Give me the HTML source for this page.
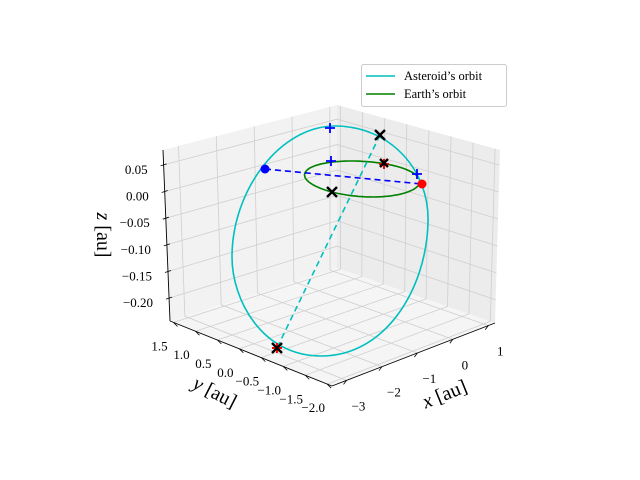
<!DOCTYPE html>
<html><head><meta charset="utf-8"><style>
html,body{margin:0;padding:0;background:#fff;}
svg{display:block;font-family:"Liberation Serif","DejaVu Serif",serif;}
</style></head><body>
<svg id="chart" width="640" height="480" viewBox="0 0 640 480"></svg>
<script>
const xTicks=[-3,-2,-1,0,1];
const yTicks=[1.5,1.0,0.5,0.0,-0.5,-1.0,-1.5,-2.0];
const zTicks=[0.05,0.00,-0.05,-0.10,-0.15,-0.20];
const earthRadius=[1];
const seriesNames=["Asteroid\u2019s orbit","Earth\u2019s orbit"];

const xmin=-3.41,xmax=1.19,ymin=-2.11,ymax=1.58,zmin=-0.243,zmax=0.078;
const A=[170,321],B=[337,268],C=[495,323],D=[332,386];
const At=[163,150],Bt=[337,105],Ct=[500,150],Dt=[332,210];
const NS="http://www.w3.org/2000/svg";
const svg=document.getElementById('chart');
function bil(P0,P1,P2,P3,fx,fy){
  return [0,1].map(i=>P0[i]*(1-fx)*(1-fy)+P1[i]*fx*(1-fy)+P2[i]*(1-fx)*fy+P3[i]*fx*fy);
}
function proj(x,y,z){
  const fx=(x-xmin)/(xmax-xmin),fy=(y-ymin)/(ymax-ymin),fz=(z-zmin)/(zmax-zmin);
  const b=bil(D,C,A,B,fx,fy),t=bil(Dt,Ct,At,Bt,fx,fy);
  return [b[0]+(t[0]-b[0])*fz,b[1]+(t[1]-b[1])*fz];
}
function el(tag,attrs,parent){const e=document.createElementNS(NS,tag);for(const k in attrs)e.setAttribute(k,attrs[k]);(parent||svg).appendChild(e);return e;}
function pts(a){return a.map(p=>p[0].toFixed(1)+','+p[1].toFixed(1)).join(' ');}

let p;
p=el('polygon',{points:pts([proj(xmin,ymax,zmin),proj(xmax,ymax,zmin),proj(xmax,ymax,zmax),proj(xmin,ymax,zmax)]),fill:'#f2f2f2'});


p=el('polygon',{points:pts([proj(xmax,ymax,zmin),proj(xmax,ymin,zmin),proj(xmax,ymin,zmax),proj(xmax,ymax,zmax)]),fill:'#ececec'});


p=el('polygon',{points:pts([proj(xmin,ymin,zmin),proj(xmax,ymin,zmin),proj(xmax,ymax,zmin),proj(xmin,ymax,zmin)]),fill:'#f5f5f5'});



const gs={stroke:'#cfcfcf','stroke-width':0.8,fill:'none'};
xTicks.forEach(x=>{
  const g=el('polyline',Object.assign({points:pts([proj(x,ymin,zmin),proj(x,ymax,zmin),proj(x,ymax,zmax)])},gs));
  
  
});
yTicks.forEach(y=>{
  const g=el('polyline',Object.assign({points:pts([proj(xmin,y,zmin),proj(xmax,y,zmin),proj(xmax,y,zmax)])},gs));
  
  
});
zTicks.forEach(z=>{
  const g=el('polyline',Object.assign({points:pts([proj(xmin,ymax,z),proj(xmax,ymax,z),proj(xmax,ymin,z)])},gs));
  
  
});

let ax;
ax=el('polyline',{points:pts([proj(xmin,ymin,zmin),proj(xmax,ymin,zmin)]),stroke:'#000','stroke-width':0.9});


ax=el('polyline',{points:pts([proj(xmin,ymax,zmin),proj(xmin,ymin,zmin)]),stroke:'#000','stroke-width':0.9});


ax=el('polyline',{points:pts([proj(xmin,ymax,zmin),proj(xmin,ymax,zmax)]),stroke:'#000','stroke-width':0.9});



const ts={fill:'#000','font-size':13};
xTicks.forEach(x=>{
  const q=proj(x,ymin,zmin);
  const tk=el('line',{x1:q[0],y1:q[1],x2:q[0]-3,y2:q[1]+4,stroke:'#000','stroke-width':0.8});
  
  
  const t=el('text',Object.assign({x:q[0]+12,y:q[1]+30,'text-anchor':'middle'},ts));
  t.textContent=(x<0?'\u2212':'')+Math.abs(x);
  
  
});
yTicks.forEach(y=>{
  const q=proj(xmin,y,zmin);
  const tk=el('line',{x1:q[0],y1:q[1],x2:q[0]+4,y2:q[1]+4,stroke:'#000','stroke-width':0.8});
  
  
  const t=el('text',Object.assign({x:q[0]-14,y:q[1]+28,'text-anchor':'middle'},ts));
  t.textContent=(y<0?'\u2212':'')+Math.abs(y).toFixed(1);
  
  
});
zTicks.forEach(z=>{
  const q=proj(xmin,ymax,z);
  const tk=el('line',{x1:q[0]-3,y1:q[1]+1,x2:q[0]+3,y2:q[1]-1,stroke:'#000','stroke-width':0.8});
  
  
  const t=el('text',Object.assign({x:q[0]-16,y:q[1]+9,'text-anchor':'end'},ts));
  t.textContent=(z<0?'\u2212':'')+Math.abs(z).toFixed(2);
  
  
});

const ep=[];
for(let i=0;i<=120;i++){const a=i/120*2*Math.PI;ep.push(proj(earthRadius[0]*Math.cos(a),earthRadius[0]*Math.sin(a),0));}
const earth=el('polyline',{points:pts(ep),stroke:'#008000','stroke-width':1.6,fill:'none'});


</script>
<svg width="640" height="480" style="position:absolute;left:0;top:0" font-family="Liberation Serif, serif">
  <path d="M428,223 C426,290 385,356 321,356 C262,356 232,300 232,257 C232,190 280,126 335,126 C390,126 430,170 428,223 Z" fill="none" stroke="#00bfbf" stroke-width="1.6"/>
  <line x1="380" y1="135" x2="277" y2="348" stroke="#00bfbf" stroke-width="1.6" stroke-dasharray="6,4"/>
  <line x1="265" y1="169" x2="422" y2="184" stroke="#0000ff" stroke-width="1.6" stroke-dasharray="6,4"/>
  <circle cx="265" cy="169" r="4.5" fill="#0000ff"/>
  <circle cx="422" cy="184" r="4.5" fill="#ff0000"/>
  <g stroke="#0000ff" stroke-width="1.8">
    <path d="M325,128h10M330,123v10"/>
    <path d="M326,161h10M331,156v10"/>
    <path d="M412,174h10M417,169v10"/>
  </g>
  <g stroke="#ff0000" stroke-width="2">
    <path d="M379,164h10M384,159v10"/>
    <path d="M272,348h10M277,343v10"/>
  </g>
  <g stroke="#000" stroke-width="2.4">
    <path d="M375,130l10,10M385,130l-10,10"/>
    <path d="M327,187l10,10M337,187l-10,10"/>
    <path d="M380,159l8,8M388,159l-8,8"/>
    <path d="M272,343l10,10M282,343l-10,10"/>
  </g>
  <text x="447" y="400" font-size="20" transform="rotate(-22 447 400)" text-anchor="middle"><tspan font-style="italic">x</tspan> [au]</text>
  <text x="212" y="398" font-size="20" transform="rotate(27 212 398)" text-anchor="middle"><tspan font-style="italic">y</tspan> [au]</text>
  <text x="97" y="235" font-size="20" transform="rotate(90 97 235)" text-anchor="middle"><tspan font-style="italic">z</tspan> [au]</text>
  <g>
    <rect x="361.5" y="64.5" width="145" height="42" rx="2" fill="#fff" fill-opacity="0.8" stroke="#cccccc"/>
    <line x1="366" y1="76" x2="395" y2="76" stroke="#00bfbf" stroke-width="1.6"/>
    <text x="404" y="80" font-size="12.5">Asteroid’s orbit</text>
    <line x1="366" y1="94" x2="395" y2="94" stroke="#008000" stroke-width="1.6"/>
    <text x="404" y="98" font-size="12.5">Earth’s orbit</text>
  </g>
</svg>
</body></html>
